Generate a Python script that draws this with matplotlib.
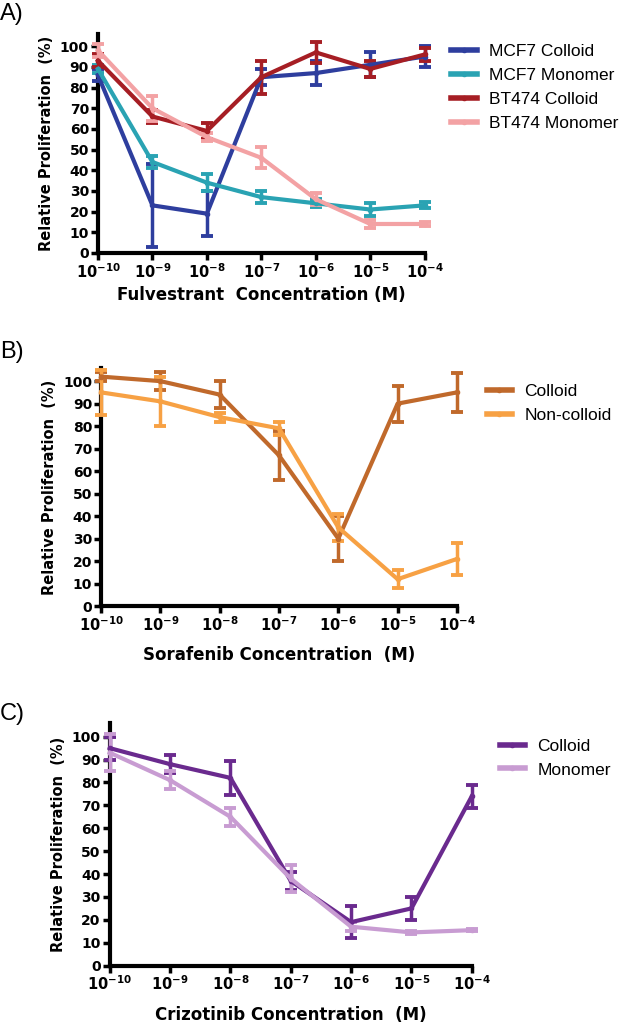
import matplotlib
matplotlib.use('Agg')
import matplotlib.pyplot as plt
from matplotlib.lines import Line2D

plt.rcParams['font.family'] = ['DejaVu Sans']
plt.rcParams['mathtext.fontset'] = 'dejavusans'

# x positions are log10 of molar concentration
conc_exp = [-10, -9, -8, -7, -6, -5, -4]
tick_labels = ['$\\mathbf{10^{-10}}$', '$\\mathbf{10^{-9}}$', '$\\mathbf{10^{-8}}$', '$\\mathbf{10^{-7}}$',
               '$\\mathbf{10^{-6}}$', '$\\mathbf{10^{-5}}$', '$\\mathbf{10^{-4}}$']

# Panel A - Fulvestrant
mcf7_colloid = [86, 23, 19, 85, 87, 91, 95]
mcf7_colloid_err = [3, 20, 11, 4, 6, 6, 5]
mcf7_monomer = [89, 44, 34, 27, 24, 21, 23]
mcf7_monomer_err = [2, 3, 4, 3, 2, 3, 1.5]
bt474_colloid = [93, 66, 59, 85, 97, 89, 96]
bt474_colloid_err = [3, 3, 4, 8, 5, 4, 3]
bt474_monomer = [98, 70, 56, 46, 26, 14, 14]
bt474_monomer_err = [3, 6, 2, 5, 3, 2, 1]

# Panel B - Sorafenib
sora_colloid = [102, 100, 94, 67, 30, 90, 95]
sora_colloid_err = [2, 4, 6, 11, 10, 8, 8.5]
sora_noncolloid = [95, 91, 84, 79, 35, 12, 21]
sora_noncolloid_err = [10, 11, 2, 3, 6, 4, 7]

# Panel C - Crizotinib
criz_colloid = [95, 88, 82, 37, 19, 25, 74]
criz_colloid_err = [5, 4, 7.5, 4, 7, 5, 5]
criz_monomer = [93, 81, 65, 38, 17, 14.5, 15.5]
criz_monomer_err = [8, 4, 4, 6, 2, 0.5, 0.5]

fig = plt.figure(figsize=(6.2, 10.24), dpi=100)
legend_font = {'family': 'Liberation Sans', 'size': 12.5}


def style_axes(ax, xlabel, xpad):
    ax.set_xlim(-10, -4)
    ax.set_ylim(0, 106)
    ax.set_xticks(conc_exp)
    ax.set_xticklabels(tick_labels, fontsize=10.5)
    ax.set_yticks(range(0, 101, 10))
    ax.set_yticklabels([str(v) for v in range(0, 101, 10)], fontsize=10, fontweight='bold')
    for s in ['top', 'right']:
        ax.spines[s].set_visible(False)
    for s in ['left', 'bottom']:
        ax.spines[s].set_linewidth(3)
    ax.tick_params(width=2.5, length=5, pad=1.5)
    ax.set_ylabel('Relative Proliferation  (%)', fontsize=10.5, fontweight='bold', labelpad=4)
    ax.set_xlabel(xlabel, fontsize=12, fontweight='bold', labelpad=xpad)


def draw(ax, y, err, color):
    ax.errorbar(conc_exp, y, yerr=err, color=color, lw=3, elinewidth=2.5,
                capsize=4.5, capthick=2.8, marker='o', ms=3, clip_on=False, zorder=3)


def add_legend(colors, names, x, y):
    handles = [Line2D([], [], color=c, lw=4, marker='o', ms=3) for c in colors]
    fig.legend(handles, names, loc='upper left', bbox_to_anchor=(x, y), frameon=False,
               prop=legend_font, handlelength=1.45, handletextpad=0.7, labelspacing=0.5)


# A
axA = fig.add_axes([0.158, 0.753, 0.527, 0.214])
colorsA = ['#2E3E9E', '#2AA3B3', '#A61E24', '#F3A2A4']
namesA = ['MCF7 Colloid', 'MCF7 Monomer', 'BT474 Colloid', 'BT474 Monomer']
for y, e, c in zip([mcf7_colloid, mcf7_monomer, bt474_colloid, bt474_monomer],
                   [mcf7_colloid_err, mcf7_monomer_err, bt474_colloid_err, bt474_monomer_err], colorsA):
    draw(axA, y, e, c)
style_axes(axA, 'Fulvestrant  Concentration (M)', 4)
add_legend(colorsA, namesA, 0.703, 0.972)
fig.text(0.0, 0.986, 'A)', fontsize=17, va='center', family='Liberation Sans')

# B
axB = fig.add_axes([0.163, 0.408, 0.574, 0.233])
colorsB = ['#C0692B', '#F7A144']
namesB = ['Colloid', 'Non-colloid']
draw(axB, sora_colloid, sora_colloid_err, colorsB[0])
draw(axB, sora_noncolloid, sora_noncolloid_err, colorsB[1])
style_axes(axB, 'Sorafenib Concentration  (M)', 8.5)
add_legend(colorsB, namesB, 0.76, 0.64)
fig.text(0.0, 0.656, 'B)', fontsize=17, va='center', family='Liberation Sans')

# C
axC = fig.add_axes([0.177, 0.057, 0.584, 0.237])
colorsC = ['#6A2A8E', '#C89CD2']
namesC = ['Colloid', 'Monomer']
draw(axC, criz_colloid, criz_colloid_err, colorsC[0])
draw(axC, criz_monomer, criz_monomer_err, colorsC[1])
style_axes(axC, 'Crizotinib Concentration  (M)', 9)
add_legend(colorsC, namesC, 0.781, 0.294)
fig.text(0.0, 0.303, 'C)', fontsize=17, va='center', family='Liberation Sans')

fig.savefig('out.png', dpi=100)
